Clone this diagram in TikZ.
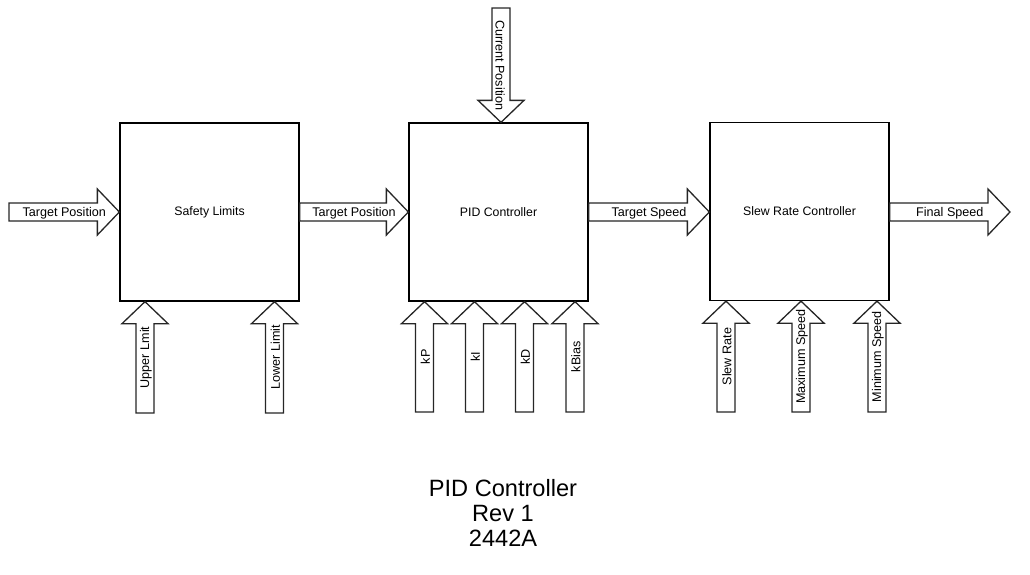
\documentclass[tikz,border=0pt]{standalone}
\usepackage{fontspec}
\setmainfont{Liberation Sans}
\usetikzlibrary{calc}

\tikzset{
  block/.style={draw, line width=1.3pt, minimum width=179pt, minimum height=178pt,
    inner sep=0pt, font=\fontsize{12.3}{14}\selectfont},
  arrowline/.style={draw=black!85, line width=1.3pt, fill=white, line join=miter}
}

% wide outlined arrow from #1 to #2, label #3 along it
\newcommand{\blockarrow}[3]{%
  \draw[arrowline] let \p1=(#1), \p2=(#2),
      \n1={veclen(\x2-\x1,\y2-\y1)}, \n2={atan2(\y2-\y1,\x2-\x1)} in
    [shift={(\p1)}, rotate=\n2]
    (0pt,-9pt) -- ({\n1-22pt},-9pt) -- ({\n1-22pt},-23pt) -- (\n1,0pt)
    -- ({\n1-22pt},23pt) -- ({\n1-22pt},9pt) -- (0pt,9pt) -- cycle
    ({\n1/2},-0.8pt) node[transform shape, inner sep=0pt, font=\fontsize{12.6}{14}\selectfont] {#3};}

\begin{document}
\begin{tikzpicture}[x=1pt, y=-1pt]
  \useasboundingbox (0,0) rectangle (1030,574);

  % The three blocks
  \node[block] (safety) at (209.5,212) {Safety Limits};
  \node[block] (pid) at (498.5,212) {PID Controller};
  \node[block] (slew) at (799.5,211.5) {Slew Rate Controller};

  % free arrow ends
  \coordinate (tpin) at (9,212);
  \coordinate (fsout) at (1010,212);
  \coordinate (cpin) at (501,8);
  \coordinate (upl) at (145,413);
  \coordinate (lowl) at (274.5,413);
  \coordinate (kp) at (424.5,412);
  \coordinate (ki) at (474.5,412);
  \coordinate (kd) at (524.5,412);
  \coordinate (kbias) at (575,412);
  \coordinate (srate) at (726,412);
  \coordinate (maxsp) at (801,412);
  \coordinate (minsp) at (877,412);

  % main chain
  \blockarrow{tpin}{safety.west}{Target Position}
  \blockarrow{safety.east}{pid.west}{Target Position}
  \blockarrow{pid.east}{pid.east -| slew.west}{Target Speed}
  \blockarrow{slew.east |- pid.east}{fsout}{Final Speed}
  \blockarrow{cpin}{cpin |- pid.north}{Current Position}

  % Safety limits inputs
  \blockarrow{upl}{upl |- safety.south}{Upper Lmit}
  \blockarrow{lowl}{lowl |- safety.south}{Lower Limit}

  % PID gains
  \blockarrow{kp}{kp |- pid.south}{kP}
  \blockarrow{ki}{ki |- pid.south}{kI}
  \blockarrow{kd}{kd |- pid.south}{kD}
  \blockarrow{kbias}{kbias |- pid.south}{kBias}

  % Slew rate inputs
  \blockarrow{srate}{srate |- slew.south}{Slew Rate}
  \blockarrow{maxsp}{maxsp |- slew.south}{Maximum Speed}
  \blockarrow{minsp}{minsp |- slew.south}{Minimum Speed}

  % Title
  \node[align=center, font=\fontsize{23.6}{25}\selectfont] (title) at (503,513)
    {PID Controller\\Rev 1\\2442A};

\end{tikzpicture}
\end{document}
